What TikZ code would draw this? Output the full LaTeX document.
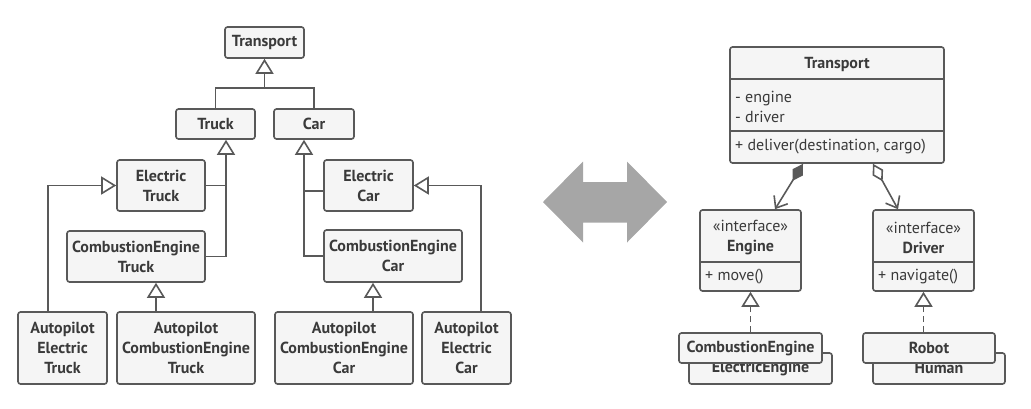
\documentclass[tikz,border=0pt]{standalone}
\usepackage{fontspec}
\setmainfont{PT Sans}
\usetikzlibrary{arrows.meta}
\definecolor{ln}{HTML}{595959}
\definecolor{bx}{HTML}{F5F5F5}
\definecolor{tx}{HTML}{3A3A3A}
\definecolor{bigarr}{HTML}{A6A6A6}
\begin{document}
\begin{tikzpicture}[x=1pt,y=-1pt,
    cls/.style={draw=ln,fill=bx,line width=1.6pt,rounded corners=2.5pt,text=tx,
      font=\fontsize{16}{20}\selectfont\bfseries,align=center,inner sep=0pt},
    txt/.style={text=tx,inner sep=0pt,font=\fontsize{16}{20}\selectfont},
    link/.style={draw=ln,line width=1.6pt},
    inh/.style={link,-{Triangle[open,fill=white,length=15pt,width=18pt]}},
    impl/.style={inh,dash pattern=on 6pt off 4pt}]
  \useasboundingbox (0,0) rectangle (1031,408);

  \node[cls,minimum width=79,minimum height=31] (tr) at (264.5,42.5) {Transport};
  \node[cls,minimum width=79,minimum height=30] (truck) at (215.5,124) {Truck};
  \node[cls,minimum width=80,minimum height=30] (car) at (314,124) {Car};
  \node[cls,minimum width=88,minimum height=51] (etruck) at (161,185.5) {Electric\\Truck};
  \node[cls,minimum width=89,minimum height=51] (ecar) at (368.5,185.5) {Electric\\Car};
  \node[cls,minimum width=138,minimum height=51] (cetruck) at (136,256.5) {CombustionEngine\\Truck};
  \node[cls,minimum width=138,minimum height=52] (cecar) at (393,256) {CombustionEngine\\Car};
  \node[cls,minimum width=89,minimum height=72] (aetruck) at (62.5,348) {Autopilot\\Electric\\Truck};
  \node[cls,minimum width=138,minimum height=72] (acetruck) at (186,348) {Autopilot\\CombustionEngine\\Truck};
  \node[cls,minimum width=138,minimum height=72] (acecar) at (344,348) {Autopilot\\CombustionEngine\\Car};
  \node[cls,minimum width=89,minimum height=72] (aecar) at (466.5,348) {Autopilot\\Electric\\Car};

  \coordinate (j1) at (264.5,88);
  \draw[link] (truck.north) |- (j1) -| (car.north);
  \draw[inh] (j1) -- (tr.south);
  \coordinate (tk) at ([xshift=10.5pt]truck.south);
  \coordinate (ck) at ([xshift=-10pt]car.south);
  \draw[inh] (cetruck.east) -| (tk);
  \draw[link] (etruck.east) -- (etruck.east -| tk);
  \draw[inh] (cecar.west) -| (ck);
  \draw[link] ([yshift=-5.5pt]ecar.west) -- ([yshift=-5.5pt]ecar.west -| ck);
  \draw[inh] ([xshift=-14.5pt]aetruck.north) |- (etruck.west);
  \draw[inh] ([xshift=-30pt]acetruck.north) -- ([xshift=20pt]cetruck.south);
  \draw[inh] ([xshift=29pt]acecar.north) -- ([xshift=-20pt]cecar.south);
  \draw[inh] ([xshift=14.5pt]aecar.north) |- (ecar.east);

  \fill[bigarr] (543,202) -- (583,161.5) -- (583,182) -- (627,182) -- (627,161.5) -- (667,202)
    -- (627,242.5) -- (627,222.5) -- (583,222.5) -- (583,242.5) -- cycle;

  \node[cls,minimum width=214,minimum height=116] (tbox) at (837,105) {};
  \draw[link] ([yshift=-33pt]tbox.north west) -- ([yshift=-33pt]tbox.north east);
  \draw[link] ([yshift=33pt]tbox.south west) -- ([yshift=33pt]tbox.south east);
  \node[txt,font=\fontsize{16}{20}\selectfont\bfseries] (tname) at (837,64) {Transport};
  \node[txt,anchor=west,align=left] (tattr) at (735,106.5) {- engine\\- driver};
  \node[txt,anchor=west] (tmeth) at (735,147) {+ deliver(destination, cargo)};

  \node[cls,minimum width=101,minimum height=81] (eng) at (750.5,250.5) {};
  \draw[link] ([yshift=30pt]eng.south west) -- ([yshift=30pt]eng.south east);
  \node[txt,align=center] (engn) at (750.5,237.5) {«interface»\\\textbf{Engine}};
  \node[txt,anchor=west] (engm) at (705,277) {+ move()};

  \node[cls,minimum width=101,minimum height=81] (drv) at (923.5,250.5) {};
  \draw[link] ([yshift=30pt]drv.south west) -- ([yshift=30pt]drv.south east);
  \node[txt,align=center] (drvn) at (923.5,237.5) {«interface»\\\textbf{Driver}};
  \node[txt,anchor=west] (drvm) at (878,277) {+ navigate()};

  \draw[link,{Diamond[length=20pt,width=12pt]}-{Straight Barb[length=10pt,width=16pt]}]
    ([xshift=-34pt]tbox.south) -- ([xshift=24.5pt]eng.north);
  \draw[link,{Diamond[open,fill=white,length=20pt,width=12pt]}-{Straight Barb[length=10pt,width=16pt]}]
    ([xshift=36pt]tbox.south) -- ([xshift=-25.5pt]drv.north);

  \node[cls,minimum width=143,minimum height=31] (ee) at (760.5,368.5) {ElectricEngine};
  \node[cls,minimum width=143,minimum height=30] (ce) at (750.5,348) {CombustionEngine};
  \node[cls,minimum width=132,minimum height=31] (hum) at (939,368.5) {Human};
  \node[cls,minimum width=132,minimum height=30] (rob) at (929,348) {Robot};

  \draw[impl] (ce.north) -- (eng.south);
  \draw[impl] (rob.north -| drv.south) -- (drv.south);
\end{tikzpicture}
\end{document}
